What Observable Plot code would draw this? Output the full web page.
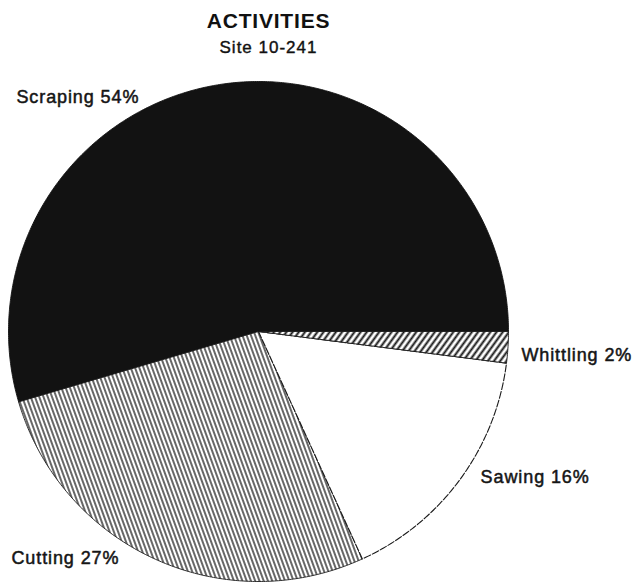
<!DOCTYPE html>
<html>
<head>
<meta charset="utf-8">
<script src="https://cdn.jsdelivr.net/npm/d3@7"></script>
<script src="https://cdn.jsdelivr.net/npm/@observablehq/plot@0.6"></script>
<style>
  html, body { margin: 0; padding: 0; background: #fff; }
  body { width: 641px; height: 587px; overflow: hidden; font-family: "Liberation Sans", Arial, Helvetica, sans-serif; color: #111; }
  #title { position: relative; left: 10px; text-align: center; width: 517px; font-size: 21px; font-weight: bold; line-height: 24px; padding-top: 9px; letter-spacing: 0.8px; }
  #subtitle { position: relative; left: 10px; text-align: center; width: 517px; font-size: 17px; line-height: 22px; padding-top: 4px; letter-spacing: 1px; -webkit-text-stroke: 0.4px #111; }
  #chart svg { display: block; overflow: visible; }
</style>
</head>
<body>
<div id="title">ACTIVITIES</div>
<div id="subtitle">Site 10-241</div>
<div id="chart"></div>
<script>
// ---- data ----
const categories = ["Scraping", "Cutting", "Sawing", "Whittling"];
const percents = [54, 27, 16, 2];

// ---- layout (not data) ----
const fills = {
  Scraping: "#121212",
  Cutting: "url(#hatchCutting)",
  Sawing: "#ffffff",
  Whittling: "url(#hatchWhittling)"
};
// label anchor in polar terms relative to the pie (angle in degrees ccw from east, radius in pie units)
const labelPlacement = {
  Scraping: {angle: 117, r: 1.05, anchor: "end"},
  Cutting: {angle: 238.5, r: 1.065, anchor: "end"},
  Sawing: {angle: 326.7, r: 1.063, anchor: "start"},
  Whittling: {angle: 354.8, r: 1.056, anchor: "start"}
};

const total = d3.sum(percents);
let acc = 0;
const slices = categories.map((c, i) => {
  const a0 = acc / total * 2 * Math.PI;
  acc += percents[i];
  const a1 = acc / total * 2 * Math.PI;
  return {category: c, value: percents[i], a0, a1};
});

// polygon points for each wedge (start at east, counterclockwise)
function wedgePoints(s) {
  const pts = [{category: s.category, x: 0, y: 0}];
  const n = Math.max(4, Math.ceil((s.a1 - s.a0) / (Math.PI / 360)));
  for (let k = 0; k <= n; k++) {
    const a = s.a0 + (s.a1 - s.a0) * k / n;
    pts.push({category: s.category, x: Math.cos(a), y: Math.sin(a)});
  }
  pts.push({category: s.category, x: 0, y: 0});
  return pts;
}

const labels = slices.map(s => {
  const p = labelPlacement[s.category];
  const a = p.angle * Math.PI / 180;
  return {text: `${s.category} ${s.value}%`, x: p.r * Math.cos(a), y: p.r * Math.sin(a), anchor: p.anchor};
});

const marks = slices.map(s => Plot.line(wedgePoints(s), {
  x: "x", y: "y",
  fill: fills[s.category],
  stroke: s.category === "Scraping" ? "#121212" : "#1a1a1a",
  strokeWidth: s.category === "Sawing" ? 1.1 : 0.9,
  strokeDasharray: s.category === "Sawing" ? "7,2" : null,
  curve: "linear"
}));

["start", "end"].forEach(anchor => {
  marks.push(Plot.text(labels.filter(d => d.anchor === anchor), {
    x: "x", y: "y", text: "text",
    textAnchor: anchor,
    fontSize: 18,
    fontFamily: "Liberation Sans, Arial, Helvetica, sans-serif",
    fill: "#151515",
    stroke: "#151515",
    strokeWidth: 0.5,
    clip: false
  }));
});

const chart = Plot.plot({
  width: 641,
  height: 525,
  marginLeft: 8,
  marginRight: 133,
  marginTop: 22,
  marginBottom: 3,
  x: {domain: [-1, 1], axis: null},
  y: {domain: [-1, 1], axis: null},
  style: {background: "transparent", overflow: "visible", fontFamily: "Liberation Sans, Arial, sans-serif"},
  marks
});

const svg = d3.select(chart);
svg.selectAll("text").attr("letter-spacing", "0.9px");
const defs = svg.insert("defs", ":first-child");
const p1 = defs.append("pattern")
  .attr("id", "hatchCutting")
  .attr("patternUnits", "userSpaceOnUse")
  .attr("width", 4).attr("height", 4)
  .attr("patternTransform", "rotate(-20)");
p1.append("rect").attr("width", 4).attr("height", 4).attr("fill", "#fff");
p1.append("line").attr("x1", 1).attr("y1", 0).attr("x2", 1).attr("y2", 4)
  .attr("stroke", "#151515").attr("stroke-width", 1.3);
const p2 = defs.append("pattern")
  .attr("id", "hatchWhittling")
  .attr("patternUnits", "userSpaceOnUse")
  .attr("width", 5).attr("height", 5)
  .attr("patternTransform", "rotate(36)");
p2.append("rect").attr("width", 5).attr("height", 5).attr("fill", "#fff");
p2.append("line").attr("x1", 1.5).attr("y1", 0).attr("x2", 1.5).attr("y2", 5)
  .attr("stroke", "#151515").attr("stroke-width", 2);

document.getElementById("chart").appendChild(chart);
</script>
</body>
</html>
